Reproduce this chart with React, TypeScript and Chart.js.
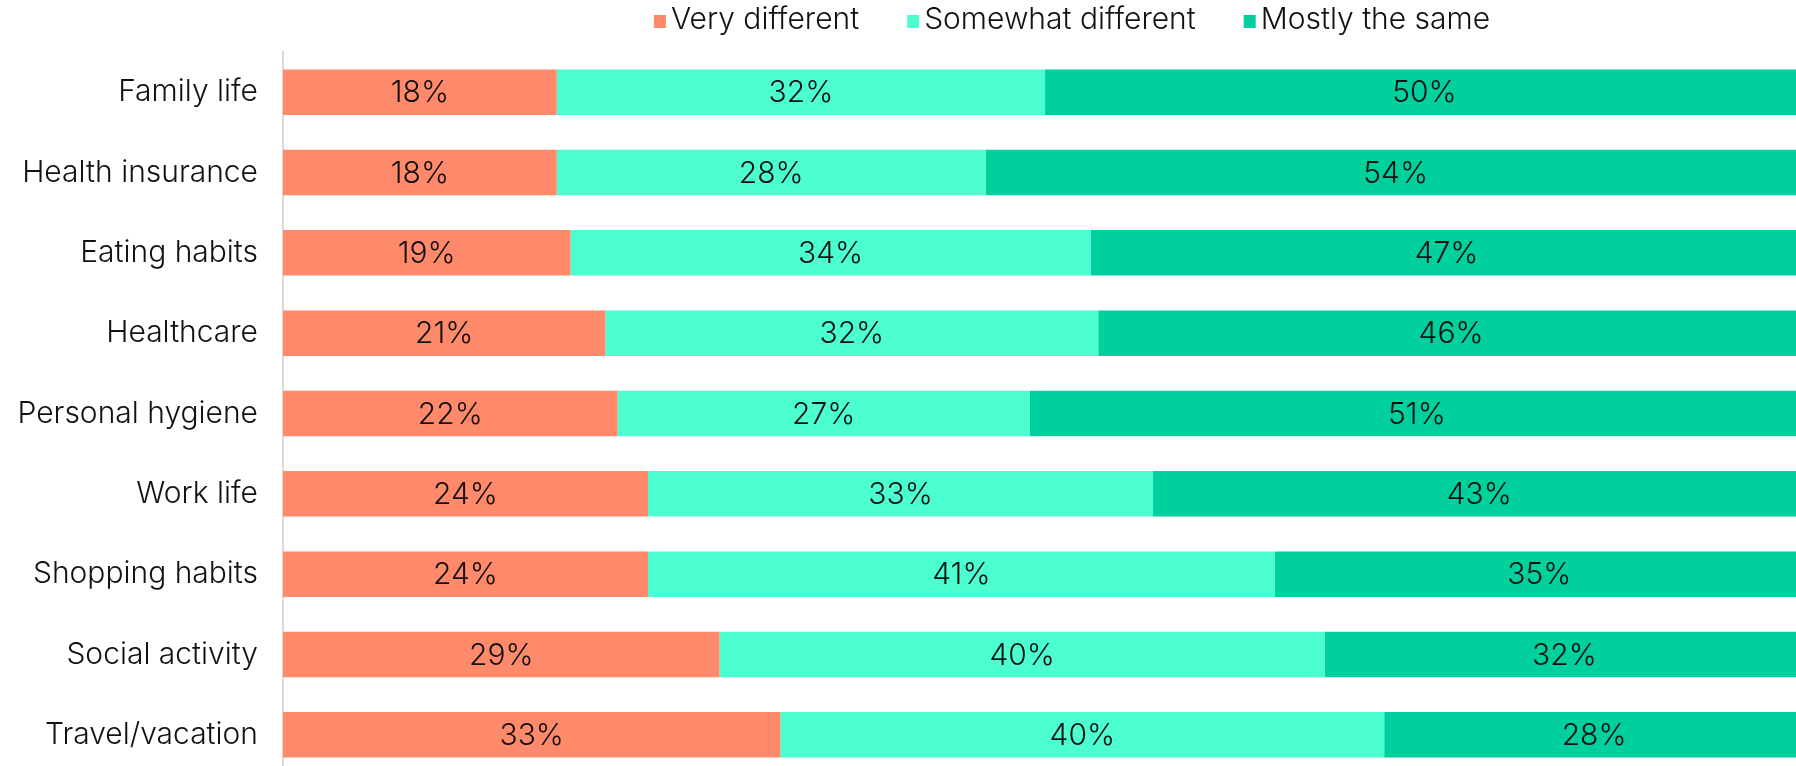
import React, { useEffect, useRef } from 'react';
import { Chart, registerables } from 'chart.js';

Chart.register(...registerables);

const categories = [
  'Family life',
  'Health insurance',
  'Eating habits',
  'Healthcare',
  'Personal hygiene',
  'Work life',
  'Shopping habits',
  'Social activity',
  'Travel/vacation',
];
const veryDifferent = [18.0, 18.0, 18.9, 21.2, 22.0, 24.0, 24.0, 28.7, 32.7];
const somewhatDifferent = [32.1, 28.2, 34.2, 32.4, 27.1, 33.2, 41.2, 39.8, 39.7];
const mostlySame = [49.9, 53.9, 46.8, 46.4, 50.9, 42.9, 34.8, 31.5, 27.6];
const seriesNames = ['Very different', 'Somewhat different', 'Mostly the same'];
const seriesColors = ['#FF896B', '#4BFFD1', '#00D09E'];

const FAMILY = 'Inter, "Liberation Sans", Arial, sans-serif';
const FONT_SIZE = 30;
const FONT_WEIGHT = 300;
const TEXT_COLOR = '#111111';
const LEGEND_CENTER_X = 1072;
const LEGEND_CENTER_Y = 20;

const legendPlugin = {
  id: 'customLegend',
  afterDraw(chart: any) {
    const ctx = chart.ctx;
    ctx.save();
    ctx.font = `${FONT_WEIGHT} ${FONT_SIZE}px ${FAMILY}`;
    ctx.textBaseline = 'middle';
    ctx.textAlign = 'left';
    const box = 12;
    const gap = 5;
    const spacing = 48;
    const items = chart.data.datasets.map((ds: any) => ({
      text: ds.label,
      color: ds.backgroundColor,
      w: ctx.measureText(ds.label).width,
    }));
    const total =
      items.reduce((s: number, it: any) => s + box + gap + it.w, 0) + spacing * (items.length - 1);
    let x = LEGEND_CENTER_X - total / 2;
    items.forEach((it: any) => {
      ctx.fillStyle = it.color;
      ctx.fillRect(x, LEGEND_CENTER_Y - box / 2 + 1, box, box + 1);
      ctx.fillStyle = TEXT_COLOR;
      ctx.fillText(it.text, x + box + gap, LEGEND_CENTER_Y);
      x += box + gap + it.w + spacing;
    });
    ctx.restore();
  },
};

const valueLabelPlugin = {
  id: 'valueLabels',
  afterDatasetsDraw(chart: any) {
    const ctx = chart.ctx;
    ctx.save();
    ctx.font = `${FONT_WEIGHT} ${FONT_SIZE}px ${FAMILY}`;
    ctx.fillStyle = TEXT_COLOR;
    ctx.textAlign = 'center';
    ctx.textBaseline = 'middle';
    chart.data.datasets.forEach((ds: any, i: number) => {
      const meta = chart.getDatasetMeta(i);
      meta.data.forEach((el: any, j: number) => {
        const { x, y, base } = el.getProps(['x', 'y', 'base'], true);
        ctx.fillText(Math.round(ds.data[j]) + '%', (x + base) / 2, y + 1);
      });
    });
    ctx.restore();
  },
};

export default function App() {
  const canvasRef = useRef<HTMLCanvasElement | null>(null);

  useEffect(() => {
    document.documentElement.style.overflow = 'hidden';
    document.body.style.margin = '0';
    document.body.style.overflow = 'hidden';
    const canvas = canvasRef.current;
    if (!canvas) return;
    const values = [veryDifferent, somewhatDifferent, mostlySame];
    const chart = new Chart(canvas, {
      type: 'bar',
      data: {
        labels: categories,
        datasets: values.map((data, i) => ({
          label: seriesNames[i],
          data,
          backgroundColor: seriesColors[i],
          borderWidth: 0,
          barPercentage: 0.567,
          categoryPercentage: 1,
        })),
      },
      options: {
        indexAxis: 'y',
        responsive: false,
        devicePixelRatio: 1,
        animation: false,
        layout: { padding: { top: 52, left: 0, right: 0, bottom: 0 } },
        plugins: {
          legend: { display: false },
          tooltip: { enabled: false },
        },
        scales: {
          x: {
            stacked: true,
            display: false,
            min: 0,
            max: 100,
          },
          y: {
            stacked: true,
            grid: { display: false, drawTicks: false },
            border: { display: true, color: '#d9d9d9', width: 2 },
            ticks: {
              color: TEXT_COLOR,
              padding: 25,
              font: { family: FAMILY, size: FONT_SIZE, weight: FONT_WEIGHT as any },
            },
            afterFit: (scale: any) => {
              scale.width = 283;
              scale.paddingTop = 0;
              scale.paddingBottom = 0;
            },
          },
        },
      },
      plugins: [valueLabelPlugin, legendPlugin],
    });
    return () => chart.destroy();
  }, []);

  return (
    <div style={{ width: 1804, height: 775 }}>
      <canvas ref={canvasRef} width={1804} height={775} style={{ display: 'block' }} />
    </div>
  );
}
